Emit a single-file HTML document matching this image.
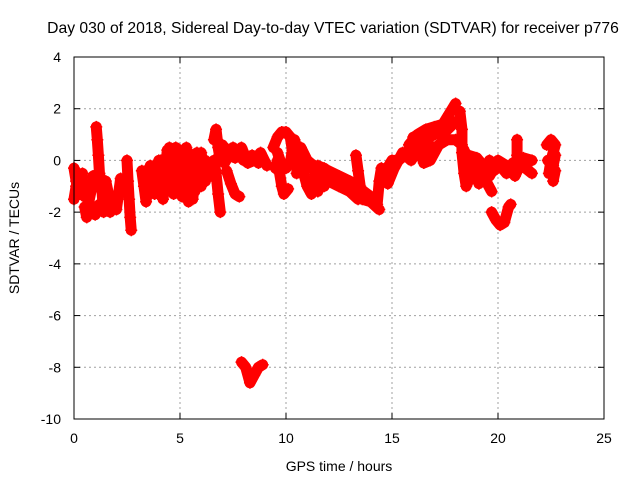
<!DOCTYPE html>
<html><head><meta charset="utf-8"><style>
body{margin:0;background:#fff}
svg text{font-family:"Liberation Sans",sans-serif;font-size:14px;fill:#000}
</style></head><body>
<svg id="c" width="640" height="480" xmlns="http://www.w3.org/2000/svg">
<text x="333" y="33" text-anchor="middle" style="font-size:15.7px">Day 030 of 2018, Sidereal Day-to-day VTEC variation (SDTVAR) for receiver p776</text>
<text x="339" y="471" text-anchor="middle">GPS time / hours</text>
<text transform="translate(19,238) rotate(-90)" text-anchor="middle">SDTVAR / TECUs</text>
<g id="grid"></g>
<g id="ticks"></g>
<g id="marks"></g>
<rect x="74" y="57" width="530" height="362" fill="none" stroke="#000" stroke-width="1"/>
</svg>
<script>
const xTicks=[0,5,10,15,20,25];
const yTicks=[4,2,0,-2,-4,-6,-8,-10];
const tracks=[
[[0,-0.3],[0.1,-0.8],[0.2,-1.2],[0.3,-0.6],[0.4,-1.0],[0.5,-1.4]],
[[0,-1.5],[0.1,-1.0],[0.3,-1.3],[0.4,-0.5]],
[[0.5,-1.8],[0.6,-2.2],[0.7,-1.6],[0.8,-1.2],[0.9,-0.6],[1.0,-0.8]],
[[0.6,-1.3],[0.8,-1.9],[1.0,-2.1],[1.2,-1.7]],
[[1.05,1.3],[1.1,0.8],[1.15,0.2],[1.2,-0.5],[1.3,-1.0],[1.4,-2.0],[1.5,-1.5]],
[[1.5,-0.8],[1.6,-1.2],[1.7,-2.0],[1.8,-1.8]],
[[2.0,-1.9],[2.1,-1.3],[2.2,-0.7],[2.3,-1.0]],
[[2.5,0.0],[2.55,-0.8],[2.6,-1.5],[2.65,-2.2],[2.7,-2.7]],
[[3.2,-0.4],[3.3,-1.0],[3.4,-1.6],[3.5,-0.8],[3.6,-0.2],[3.7,-0.5],[3.8,-1.3]],
[[4.0,-0.8],[4.1,0.0],[4.2,-1.5],[4.3,-0.5],[4.4,0.4],[4.5,-0.2],[4.6,-1.0],[4.7,0.2],[4.8,0.5],[4.9,-0.3],[5.0,0.4],[5.1,-0.6]],
[[4.0,0.0],[4.3,-1.2],[4.5,0.5],[4.7,-1.3],[4.9,0.4],[5.1,-1.4],[5.3,0.5]],
[[4.1,-1.0],[4.4,-0.8],[4.6,0.3],[4.8,-0.8],[5.0,-1.2],[5.2,0.2]],
[[5.2,-0.8],[5.3,0.3],[5.4,-1.6],[5.5,-0.5],[5.6,0.0],[5.7,-1.2],[5.8,-0.3],[5.9,-0.8],[6.0,0.3],[6.1,-0.5],[6.2,-0.8],[6.3,-0.3],[6.4,-0.6]],
[[5.4,0.3],[5.6,-1.5],[5.8,0.3],[6.0,-1.0],[6.2,0.0],[6.4,-0.2]],
[[6.6,0.8],[6.7,1.2],[6.8,0.5],[6.9,0.0],[7.0,0.3],[7.1,0.5],[7.2,0.2]],
[[6.6,0.0],[6.7,-0.5],[6.8,-1.3],[6.9,-2.0]],
[[7.2,-0.4],[7.4,-0.9],[7.6,-1.3],[7.8,-1.4]],
[[7.0,0.6],[7.3,0.2],[7.6,0.1],[7.9,0.5],[8.2,-0.1],[8.5,0.0],[8.8,0.3],[9.1,-0.2]],
[[7.1,-0.1],[7.5,0.5],[8.0,0.0],[8.4,0.2],[8.7,-0.1]],
[[9.4,0.5],[9.6,0.9],[9.8,1.1],[10.0,1.1],[10.2,0.9],[10.3,0.4],[10.2,-0.1],[10.0,-0.3],[9.8,-0.2],[9.6,0.3]],
[[9.5,-0.3],[9.6,0.0],[9.7,-0.5],[9.8,-1.0],[9.9,-1.3],[10.1,-1.1]],
[[10.4,0.8],[10.6,0.2],[10.8,-0.4],[11.0,-1.0],[11.2,-1.3],[11.4,-0.8],[11.6,-0.5],[11.8,-1.0]],
[[10.5,-0.5],[10.7,0.5],[11.0,0.0],[11.3,-0.2],[11.5,-1.2],[11.8,-0.3]],
[[10.3,0.3],[11.0,-0.3],[11.5,-0.2],[12.0,-0.4],[12.5,-0.6],[13.0,-0.8],[13.5,-1.1],[14.0,-1.4],[14.3,-1.8]],
[[11.8,-0.6],[12.0,-0.8],[12.5,-1.0],[13.0,-1.2],[13.4,-1.5]],
[[13.3,0.2],[13.4,-0.4],[13.5,-1.0],[13.6,-1.5],[14.0,-1.6],[14.4,-1.9]],
[[14.3,-1.7],[14.4,-0.8],[14.5,-0.3],[14.6,-0.6]],
[[14.7,-0.4],[15.0,0.0],[15.3,0.0],[15.6,0.2],[16.0,0.3],[16.4,0.2],[16.7,0.6],[17.0,0.5]],
[[14.8,-0.9],[15.1,-0.3],[15.5,0.3],[15.9,0.0],[16.3,0.5]],
[[15.8,0.6],[16.2,1.0],[16.6,1.2],[17.0,1.3],[17.4,1.4],[17.7,1.8],[18.0,2.2]],
[[16.0,0.9],[16.5,0.8],[17.0,1.0],[17.5,1.1],[18.0,1.5]],
[[16.3,0.4],[16.5,-0.1],[16.8,0.0],[17.2,0.6],[17.6,0.8],[18.0,0.8],[18.3,0.6]],
[[18.2,1.9],[18.3,1.2],[18.3,0.3],[18.4,-0.5],[18.5,-1.0],[18.7,-0.6],[18.8,-0.2],[19.0,-0.6],[19.2,-0.4],[19.5,-0.9],[19.7,-1.2]],
[[18.4,0.4],[18.6,-0.3],[18.9,0.1],[19.1,-0.9],[19.4,-0.6],[19.6,0.0]],
[[18.6,0.2],[19.0,0.1],[19.3,-0.2],[19.5,-0.3],[19.8,-0.4],[20.1,-0.2],[20.4,-0.5],[20.7,-0.1],[21.0,0.0],[21.3,-0.3],[21.6,-0.5]],
[[19.6,-0.6],[20.0,0.0],[20.4,-0.2],[20.8,-0.6],[21.2,0.1],[21.6,0.0]],
[[20.9,0.8],[20.9,0.2],[20.9,-0.4]],
[[19.7,-2.0],[19.9,-2.3],[20.1,-2.5],[20.3,-2.4],[20.5,-1.8],[20.6,-1.7]],
[[22.3,0.6],[22.5,0.8],[22.7,0.6],[22.5,0.0],[22.4,-0.5],[22.7,-0.4],[22.6,-0.8]],
[[22.35,0.0],[22.6,-0.2],[22.7,0.2]],
[[7.9,-7.8],[8.1,-8.0],[8.3,-8.6],[8.5,-8.3],[8.7,-8.0],[8.9,-7.9]]
];
const X0=74,X1=604,Y0=419,Y1=57;
function sx(t){return X0+(t-0)/(25-0)*(X1-X0);}
function sy(v){return Y0-(v+10)/(4+10)*(Y0-Y1);}
const NS='http://www.w3.org/2000/svg';
const grid=document.getElementById('grid'),ticks=document.getElementById('ticks'),marks=document.getElementById('marks');
function mk(tag,attrs,parent){const e=document.createElementNS(NS,tag);for(const k in attrs)e.setAttribute(k,attrs[k]);parent.appendChild(e);return e;}
xTicks.forEach(t=>{
 const x=sx(t);
 if(t>0&&t<25){const g=mk('line',{x1:x,y1:Y1,x2:x,y2:Y0,stroke:'#a0a0a0','stroke-dasharray':'2,3'},grid);
 
 }
 mk('line',{x1:x,y1:Y0,x2:x,y2:Y0-6,stroke:'#000'},ticks);
 mk('line',{x1:x,y1:Y1,x2:x,y2:Y1+6,stroke:'#000'},ticks);
 const tx=mk('text',{x:x,y:443,'text-anchor':'middle'},ticks);tx.textContent=t;
 
 
});
yTicks.forEach(v=>{
 const y=sy(v);
 if(v>-10&&v<4){const g=mk('line',{x1:X0,y1:y,x2:X1,y2:y,stroke:'#a0a0a0','stroke-dasharray':'2,3'},grid);
 
 }
 mk('line',{x1:X0,y1:y,x2:X0+6,y2:y,stroke:'#000'},ticks);
 mk('line',{x1:X1,y1:y,x2:X1-6,y2:y,stroke:'#000'},ticks);
 const tx=mk('text',{x:61,y:y+5,'text-anchor':'end'},ticks);tx.textContent=v;
 
 
});
tracks.forEach(tr=>{
 const pts=tr.map(p=>sx(p[0])+','+sy(p[1])).join(' ');
 const pl=mk('polyline',{points:pts,fill:'none',stroke:'#f00','stroke-width':11,'stroke-linejoin':'round','stroke-linecap':'round'},marks);
 
 
 tr.forEach(p=>{
  const x=sx(p[0]),y=sy(p[1]);
  const m=mk('path',{d:`M${x-6},${y}H${x+6}M${x},${y-6}V${y+6}`,stroke:'#f00','stroke-width':1.5},marks);
  
  
 });
});
</script>
</body></html>
